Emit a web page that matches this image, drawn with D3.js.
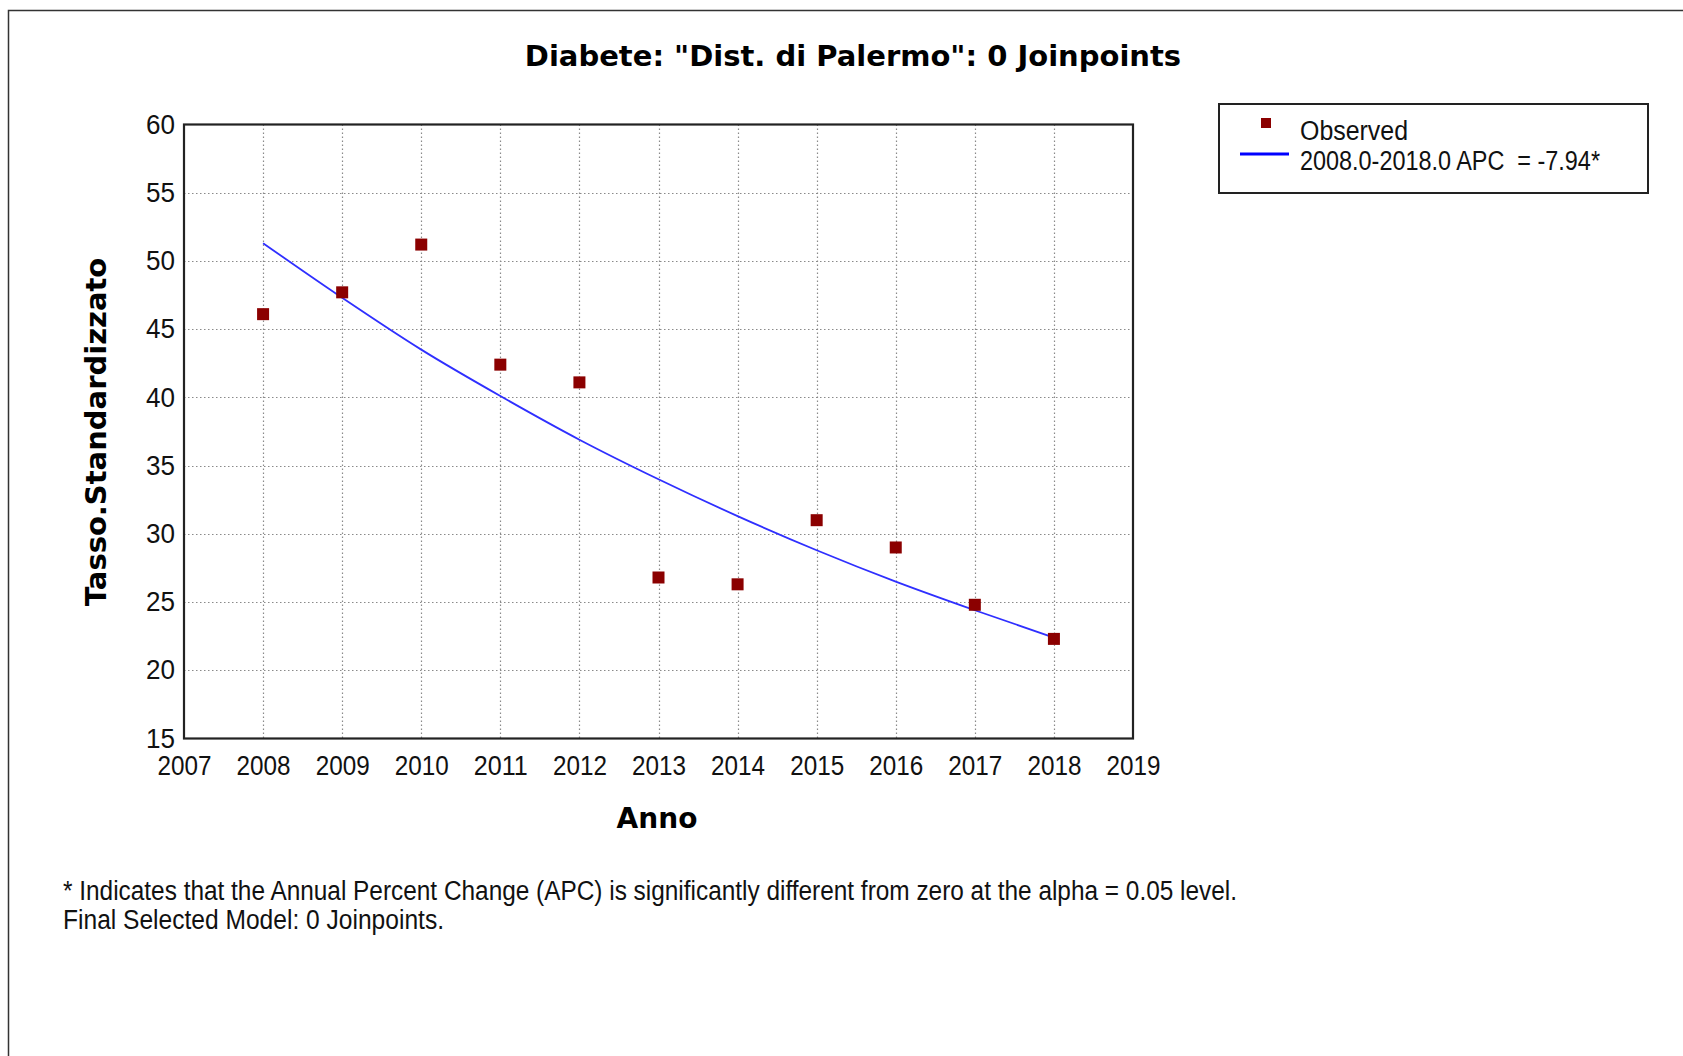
<!DOCTYPE html>
<html>
<head>
<meta charset="utf-8">
<script src="https://cdn.jsdelivr.net/npm/d3@7"></script>
<style>
  body { margin: 0; background: #fff; }
  svg { display: block; }
  .tick-label { font-family: "Liberation Sans Narrow", "Arial Narrow", "Liberation Sans", Arial, sans-serif; font-size: 27px; fill: #111; }
  .bold-label { font-family: "DejaVu Sans", Verdana, sans-serif; font-weight: bold; fill: #000; }
</style>
</head>
<body>
<svg id="chart" width="1683" height="1056"></svg>
<script>
// observed rates per year
const years = [2008, 2009, 2010, 2011, 2012, 2013, 2014, 2015, 2016, 2017, 2018];
const observed = [46.1, 47.7, 51.2, 42.4, 41.1, 26.8, 26.3, 31.0, 29.0, 24.8, 22.3];
// modelled values
const modelled = [51.3, 47.3, 43.5, 40.1, 36.9, 34.0, 31.3, 28.8, 26.5, 24.4, 22.4];
const xTicks = [2007, 2008, 2009, 2010, 2011, 2012, 2013, 2014, 2015, 2016, 2017, 2018, 2019];
const yTicks = [15, 20, 25, 30, 35, 40, 45, 50, 55, 60];

const svg = d3.select("#chart");

const plot = { left: 184, right: 1133, top: 124.5, bottom: 738.5 };

const x = d3.scaleLinear().domain([2007, 2019]).range([plot.left, plot.right]);
const y = d3.scaleLinear().domain([15, 60]).range([plot.bottom, plot.top]);

// outer frame of the picture
svg.append("path")
    .attr("d", "M8.5,1056 L8.5,10.5 L1683,10.5")
    .attr("fill", "none")
    .attr("stroke", "#333")
    .attr("stroke-width", 1.5);

// title
svg.append("text")
    .attr("class", "bold-label")
    .attr("x", 853)
    .attr("y", 66)
    .attr("text-anchor", "middle")
    .style("font-size", "29px")
    .text('Diabete: "Dist. di Palermo": 0 Joinpoints');

// grid
const grid = svg.append("g")
    .attr("stroke", "#8a8a8a")
    .attr("stroke-width", 1.2)
    .attr("stroke-dasharray", "1.5,2.5");

grid.selectAll("line.v")
    .data(years)
    .join("line")
    .attr("class", "v")
    .attr("x1", d => Math.round(x(d)) + 0.5)
    .attr("x2", d => Math.round(x(d)) + 0.5)
    .attr("y1", plot.top)
    .attr("y2", plot.bottom);

grid.selectAll("line.h")
    .data(yTicks.filter(d => d > 15 && d < 60))
    .join("line")
    .attr("class", "h")
    .attr("x1", plot.left)
    .attr("x2", plot.right)
    .attr("y1", d => Math.round(y(d)) + 0.5)
    .attr("y2", d => Math.round(y(d)) + 0.5);

// axes (labels only, frame drawn below)
const yAxis = svg.append("g")
    .attr("transform", `translate(${plot.left},0)`)
    .call(d3.axisLeft(y).tickValues(yTicks).tickSize(0).tickPadding(9));
yAxis.select(".domain").remove();
yAxis.selectAll("text").attr("class", "tick-label").attr("font-size", null).attr("font-family", null)
    .attr("textLength", 29).attr("lengthAdjust", "spacingAndGlyphs");

const xAxis = svg.append("g")
    .attr("transform", `translate(0,${plot.bottom})`)
    .call(d3.axisBottom(x).tickValues(xTicks).tickFormat(d3.format("d")).tickSize(0).tickPadding(17));
xAxis.select(".domain").remove();
xAxis.selectAll("text").attr("class", "tick-label").attr("font-size", null).attr("font-family", null)
    .attr("textLength", 54).attr("lengthAdjust", "spacingAndGlyphs");

// plot frame
svg.append("rect")
    .attr("x", plot.left)
    .attr("y", plot.top)
    .attr("width", plot.right - plot.left)
    .attr("height", plot.bottom - plot.top)
    .attr("fill", "none")
    .attr("stroke", "#222")
    .attr("stroke-width", 2.2);

// modelled curve
const line = d3.line()
    .x((d, i) => x(years[i]))
    .y(d => y(d))
    .curve(d3.curveMonotoneX);

svg.append("path")
    .datum(modelled)
    .attr("d", line)
    .attr("fill", "none")
    .attr("stroke", "#2f2fff")
    .attr("stroke-width", 1.8);

// observed points
const sq = 12;
svg.append("g")
    .selectAll("rect")
    .data(observed)
    .join("rect")
    .attr("x", (d, i) => x(years[i]) - sq / 2)
    .attr("y", d => y(d) - sq / 2)
    .attr("width", sq)
    .attr("height", sq)
    .attr("fill", "#8b0000");

// axis titles
svg.append("text")
    .attr("class", "bold-label")
    .attr("transform", "translate(106,432) rotate(-90)")
    .attr("text-anchor", "middle")
    .style("font-size", "29px")
    .text("Tasso.Standardizzato");

svg.append("text")
    .attr("class", "bold-label")
    .attr("x", 657)
    .attr("y", 828)
    .attr("text-anchor", "middle")
    .style("font-size", "28px")
    .text("Anno");

// legend
const legend = svg.append("g");
legend.append("rect")
    .attr("x", 1219)
    .attr("y", 104)
    .attr("width", 429)
    .attr("height", 89)
    .attr("fill", "#fff")
    .attr("stroke", "#222")
    .attr("stroke-width", 2);
legend.append("rect")
    .attr("x", 1261)
    .attr("y", 118)
    .attr("width", 10)
    .attr("height", 10)
    .attr("fill", "#8b0000");
legend.append("line")
    .attr("x1", 1240)
    .attr("x2", 1289)
    .attr("y1", 154)
    .attr("y2", 154)
    .attr("stroke", "#0000ff")
    .attr("stroke-width", 3);
legend.append("text")
    .attr("class", "tick-label")
    .attr("x", 1300)
    .attr("y", 140)
    .attr("textLength", 108)
    .attr("lengthAdjust", "spacingAndGlyphs")
    .text("Observed");
legend.append("text")
    .attr("class", "tick-label")
    .attr("x", 1300)
    .attr("y", 170)
    .attr("xml:space", "preserve")
    .attr("textLength", 300)
    .attr("lengthAdjust", "spacingAndGlyphs")
    .text("2008.0-2018.0 APC  = -7.94*");

// footnotes
const notes = [
    "* Indicates that the Annual Percent Change (APC) is significantly different from zero at the alpha = 0.05 level.",
    "Final Selected Model: 0 Joinpoints."
];
const noteWidths = [1174, 381];
svg.append("g")
    .selectAll("text")
    .data(notes)
    .join("text")
    .attr("class", "tick-label")
    .attr("x", 63)
    .attr("y", (d, i) => 900 + i * 29)
    .attr("textLength", (d, i) => noteWidths[i])
    .attr("lengthAdjust", "spacingAndGlyphs")
    .text(d => d);
</script>
</body>
</html>
